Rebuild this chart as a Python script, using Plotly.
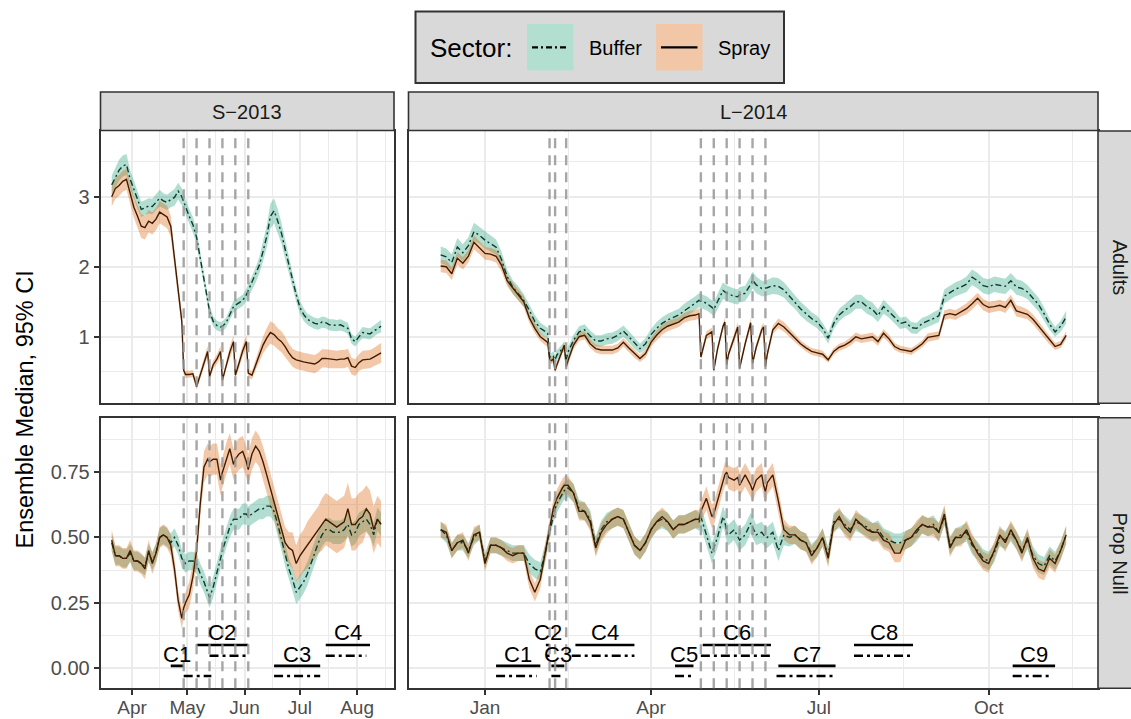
import datetime as dt
import plotly.graph_objects as go

W, H = 1131, 719

# ---------------------------------------------------------------
# S-2013 season: sampled ensemble medians and 95% CI half-widths
# ---------------------------------------------------------------
s13_days = [
    "03-21", "03-23", "03-25", "03-27", "03-29", "03-31", "04-02", "04-04", "04-06", "04-08",
    "04-10", "04-12", "04-14", "04-16", "04-18", "04-20", "04-22", "04-24", "04-26", "04-28",
    "04-29", "04-30", "05-02", "05-04", "05-06", "05-08", "05-10", "05-12", "05-13", "05-15",
    "05-17", "05-19", "05-20", "05-22", "05-24", "05-26", "05-27", "05-29", "05-31", "06-02",
    "06-03", "06-05", "06-07", "06-09", "06-11", "06-13", "06-15", "06-17", "06-19", "06-21",
    "06-23", "06-25", "06-27", "06-29", "07-01", "07-03", "07-05", "07-07", "07-09", "07-11",
    "07-13", "07-15", "07-17", "07-19", "07-21", "07-23", "07-25", "07-27", "07-29", "07-31",
    "08-02", "08-04", "08-06", "08-08", "08-10", "08-12", "08-14",
]
s13_dates = ["2013-" + d for d in s13_days]

s13_adults_buffer = [
    3.17, 3.28, 3.38, 3.44, 3.46, 3.25, 3.10, 2.95, 2.82, 2.84,
    2.87, 2.86, 2.92, 2.98, 2.94, 2.92, 2.96, 2.99, 3.08, 3.00,
    2.93, 2.85, 2.72, 2.60, 2.42, 2.12, 1.83, 1.54, 1.37, 1.22,
    1.16, 1.14, 1.15, 1.20, 1.32, 1.43, 1.45, 1.49, 1.52, 1.60,
    1.66, 1.77, 1.88, 2.02, 2.22, 2.43, 2.72, 2.80, 2.65, 2.48,
    2.25, 2.02, 1.80, 1.60, 1.42, 1.32, 1.25, 1.22, 1.19, 1.18,
    1.21, 1.20, 1.17, 1.17, 1.16, 1.17, 1.15, 1.12, 0.97, 0.93,
    1.00, 1.06, 1.05, 1.04, 1.08, 1.12, 1.15,
]
s13_adults_buffer_ci = [
    0.13, 0.14, 0.15, 0.15, 0.15, 0.13, 0.12, 0.12, 0.11, 0.11,
    0.11, 0.11, 0.11, 0.12, 0.11, 0.11, 0.11, 0.12, 0.12, 0.12,
    0.12, 0.11, 0.11, 0.11, 0.10, 0.10, 0.09, 0.08, 0.08, 0.07,
    0.07, 0.07, 0.07, 0.07, 0.08, 0.08, 0.08, 0.08, 0.08, 0.09,
    0.09, 0.10, 0.11, 0.12, 0.14, 0.16, 0.18, 0.18, 0.17, 0.15,
    0.14, 0.12, 0.11, 0.10, 0.09, 0.09, 0.08, 0.08, 0.08, 0.08,
    0.08, 0.08, 0.08, 0.08, 0.08, 0.08, 0.08, 0.08, 0.07, 0.07,
    0.07, 0.08, 0.08, 0.08, 0.08, 0.08, 0.09,
]
s13_adults_spray = [
    3.00, 3.12, 3.16, 3.22, 3.25, 3.05, 2.85, 2.72, 2.58, 2.56,
    2.65, 2.62, 2.68, 2.78, 2.75, 2.71, 2.58, 2.10, 1.65, 1.22,
    0.52, 0.46, 0.46, 0.47, 0.29, 0.46, 0.63, 0.79, 0.43, 0.60,
    0.68, 0.79, 0.38, 0.60, 0.78, 0.93, 0.45, 0.62, 0.80, 0.93,
    0.48, 0.45, 0.60, 0.75, 0.88, 0.98, 1.06, 1.03, 0.97, 0.93,
    0.86, 0.77, 0.70, 0.67, 0.65, 0.64, 0.63, 0.62, 0.61, 0.64,
    0.69, 0.69, 0.68, 0.68, 0.67, 0.68, 0.68, 0.70, 0.58, 0.56,
    0.63, 0.67, 0.67, 0.68, 0.71, 0.74, 0.77,
]
s13_adults_spray_ci = [
    0.14, 0.15, 0.15, 0.15, 0.15, 0.15, 0.15, 0.16, 0.17, 0.17,
    0.16, 0.16, 0.16, 0.16, 0.16, 0.16, 0.15, 0.12, 0.10, 0.09,
    0.06, 0.05, 0.05, 0.05, 0.05, 0.06, 0.07, 0.08, 0.05, 0.06,
    0.07, 0.08, 0.05, 0.06, 0.08, 0.09, 0.05, 0.07, 0.08, 0.09,
    0.06, 0.06, 0.08, 0.10, 0.12, 0.14, 0.16, 0.16, 0.15, 0.15,
    0.14, 0.13, 0.13, 0.13, 0.13, 0.13, 0.13, 0.13, 0.13, 0.13,
    0.13, 0.13, 0.13, 0.13, 0.13, 0.13, 0.13, 0.13, 0.12, 0.12,
    0.12, 0.13, 0.13, 0.13, 0.13, 0.13, 0.14,
]
s13_null_buffer = [
    0.48, 0.43, 0.43, 0.42, 0.42, 0.44, 0.41, 0.41, 0.40, 0.39,
    0.44, 0.41, 0.44, 0.50, 0.51, 0.50, 0.48, 0.50, 0.47, 0.42,
    0.41, 0.40, 0.41, 0.41, 0.40, 0.36, 0.33, 0.29, 0.27, 0.31,
    0.36, 0.42, 0.45, 0.50, 0.54, 0.57, 0.57, 0.57, 0.59, 0.59,
    0.58, 0.59, 0.60, 0.61, 0.61, 0.62, 0.62, 0.60, 0.55, 0.49,
    0.43, 0.38, 0.34, 0.29, 0.31, 0.33, 0.36, 0.40, 0.44, 0.48,
    0.51, 0.53, 0.53, 0.52, 0.52, 0.52, 0.53, 0.55, 0.51, 0.52,
    0.55, 0.56, 0.57, 0.55, 0.51, 0.57, 0.55,
]
s13_null_buffer_ci = [
    0.035, 0.035, 0.035, 0.035, 0.035, 0.035, 0.035, 0.035, 0.035, 0.035,
    0.035, 0.035, 0.035, 0.035, 0.035, 0.035, 0.035, 0.035, 0.035, 0.035,
    0.035, 0.035, 0.035, 0.035, 0.04, 0.04, 0.04, 0.04, 0.04, 0.04,
    0.04, 0.04, 0.04, 0.04, 0.04, 0.04, 0.04, 0.04, 0.04, 0.04,
    0.04, 0.04, 0.04, 0.04, 0.04, 0.04, 0.04, 0.04, 0.04, 0.04,
    0.04, 0.04, 0.045, 0.045, 0.045, 0.045, 0.045, 0.045, 0.045, 0.045,
    0.045, 0.045, 0.045, 0.045, 0.045, 0.045, 0.045, 0.045, 0.045, 0.045,
    0.045, 0.045, 0.045, 0.045, 0.045, 0.045, 0.045,
]
s13_null_spray = [
    0.49, 0.43, 0.43, 0.42, 0.42, 0.45, 0.41, 0.41, 0.40, 0.38,
    0.45, 0.40, 0.44, 0.50, 0.51, 0.50, 0.47, 0.38, 0.26, 0.19,
    0.23, 0.25, 0.28, 0.35, 0.45, 0.63, 0.77, 0.80, 0.79, 0.80,
    0.80, 0.72, 0.75, 0.80, 0.84, 0.78, 0.80, 0.82, 0.83, 0.79,
    0.76, 0.82, 0.85, 0.83, 0.79, 0.74, 0.69, 0.64, 0.58, 0.53,
    0.48, 0.46, 0.45, 0.40, 0.43, 0.45, 0.47, 0.49, 0.51, 0.53,
    0.55, 0.57, 0.56, 0.55, 0.54, 0.55, 0.56, 0.61, 0.55, 0.55,
    0.57, 0.58, 0.61, 0.59, 0.53, 0.57, 0.55,
]
s13_null_spray_ci = [
    0.04, 0.04, 0.04, 0.04, 0.04, 0.04, 0.04, 0.04, 0.04, 0.04,
    0.04, 0.04, 0.04, 0.04, 0.04, 0.04, 0.04, 0.04, 0.04, 0.04,
    0.04, 0.04, 0.05, 0.05, 0.05, 0.05, 0.06, 0.06, 0.06, 0.06,
    0.06, 0.06, 0.06, 0.06, 0.06, 0.06, 0.06, 0.06, 0.06, 0.06,
    0.06, 0.06, 0.06, 0.06, 0.06, 0.06, 0.06, 0.06, 0.06, 0.06,
    0.06, 0.06, 0.07, 0.07, 0.08, 0.08, 0.09, 0.09, 0.09, 0.09,
    0.10, 0.10, 0.10, 0.10, 0.10, 0.10, 0.10, 0.10, 0.10, 0.10,
    0.10, 0.10, 0.09, 0.09, 0.09, 0.09, 0.09,
]
s13_spray_days = ["2013-04-29", "2013-05-06", "2013-05-13", "2013-05-20", "2013-05-27", "2013-06-03"]

# ---------------------------------------------------------------
# L-2014 season
# ---------------------------------------------------------------
l14_dates = [
    "2013-12-08", "2013-12-11", "2013-12-14", "2013-12-17", "2013-12-20", "2013-12-23", "2013-12-26", "2013-12-29", "2014-01-01", "2014-01-04",
    "2014-01-07", "2014-01-10", "2014-01-13", "2014-01-16", "2014-01-19", "2014-01-22", "2014-01-25", "2014-01-28", "2014-01-31", "2014-02-03",
    "2014-02-04", "2014-02-05", "2014-02-06", "2014-02-07", "2014-02-08", "2014-02-09", "2014-02-12", "2014-02-13", "2014-02-14", "2014-02-15",
    "2014-02-18", "2014-02-21", "2014-02-24", "2014-02-27", "2014-03-02", "2014-03-05", "2014-03-08", "2014-03-11", "2014-03-14", "2014-03-17",
    "2014-03-20", "2014-03-23", "2014-03-26", "2014-03-29", "2014-04-01", "2014-04-04", "2014-04-07", "2014-04-10", "2014-04-13", "2014-04-16",
    "2014-04-19", "2014-04-22", "2014-04-25", "2014-04-27", "2014-04-28", "2014-05-01", "2014-05-04", "2014-05-05", "2014-05-07", "2014-05-10",
    "2014-05-11", "2014-05-12", "2014-05-13", "2014-05-16", "2014-05-18", "2014-05-19", "2014-05-22", "2014-05-25", "2014-05-26", "2014-05-28",
    "2014-05-31", "2014-06-01", "2014-06-02", "2014-06-03", "2014-06-06", "2014-06-09", "2014-06-12", "2014-06-15", "2014-06-18", "2014-06-21",
    "2014-06-24", "2014-06-27", "2014-06-30", "2014-07-03", "2014-07-06", "2014-07-09", "2014-07-12", "2014-07-15", "2014-07-18", "2014-07-21",
    "2014-07-24", "2014-07-27", "2014-07-30", "2014-08-02", "2014-08-05", "2014-08-08", "2014-08-11", "2014-08-14", "2014-08-17", "2014-08-20",
    "2014-08-23", "2014-08-26", "2014-08-29", "2014-09-01", "2014-09-04", "2014-09-07", "2014-09-10", "2014-09-13", "2014-09-16", "2014-09-19",
    "2014-09-22", "2014-09-25", "2014-09-28", "2014-10-01", "2014-10-04", "2014-10-07", "2014-10-10", "2014-10-13", "2014-10-16", "2014-10-19",
    "2014-10-22", "2014-10-25", "2014-10-28", "2014-10-31", "2014-11-03", "2014-11-06", "2014-11-09", "2014-11-12",
]
l14_adults_buffer = [
    2.17, 2.14, 2.06, 2.28, 2.20, 2.30, 2.50, 2.45, 2.38, 2.33,
    2.28, 2.10, 1.86, 1.71, 1.62, 1.52, 1.38, 1.22, 1.12, 1.07,
    1.05, 0.72, 0.70, 0.72, 0.67, 0.74, 0.84, 0.86, 0.67, 0.78,
    0.95, 1.07, 1.10, 1.01, 0.94, 0.94, 0.97, 0.98, 1.02, 1.08,
    1.00, 0.91, 0.83, 0.90, 1.03, 1.12, 1.19, 1.24, 1.28, 1.31,
    1.37, 1.42, 1.48, 1.52, 1.51, 1.48, 1.42, 1.39, 1.50, 1.66,
    1.64, 1.62, 1.61, 1.58, 1.57, 1.60, 1.62, 1.75, 1.81, 1.74,
    1.69, 1.69, 1.69, 1.70, 1.73, 1.72, 1.67, 1.58, 1.50, 1.40,
    1.33, 1.26, 1.21, 1.12, 0.98, 1.19, 1.31, 1.38, 1.43, 1.50,
    1.50, 1.43, 1.39, 1.30, 1.43, 1.36, 1.28, 1.19, 1.21, 1.13,
    1.12, 1.19, 1.22, 1.26, 1.30, 1.58, 1.63, 1.68, 1.71, 1.75,
    1.85, 1.80, 1.73, 1.71, 1.75, 1.73, 1.72, 1.80, 1.71, 1.69,
    1.64, 1.55, 1.46, 1.33, 1.18, 1.07, 1.15, 1.28,
]
l14_adults_buffer_ci = [
    0.12, 0.12, 0.12, 0.13, 0.12, 0.12, 0.13, 0.12, 0.12, 0.11,
    0.11, 0.11, 0.10, 0.10, 0.10, 0.09, 0.09, 0.09, 0.08, 0.08,
    0.08, 0.07, 0.07, 0.07, 0.07, 0.07, 0.07, 0.07, 0.07, 0.07,
    0.08, 0.08, 0.08, 0.08, 0.08, 0.08, 0.08, 0.08, 0.08, 0.08,
    0.08, 0.08, 0.07, 0.08, 0.08, 0.09, 0.09, 0.09, 0.09, 0.09,
    0.10, 0.10, 0.10, 0.10, 0.10, 0.10, 0.10, 0.10, 0.11, 0.12,
    0.11, 0.11, 0.11, 0.11, 0.11, 0.11, 0.11, 0.12, 0.12, 0.12,
    0.11, 0.11, 0.11, 0.11, 0.12, 0.12, 0.11, 0.11, 0.10, 0.10,
    0.10, 0.09, 0.09, 0.08, 0.08, 0.08, 0.09, 0.09, 0.10, 0.10,
    0.10, 0.10, 0.10, 0.09, 0.10, 0.09, 0.09, 0.08, 0.08, 0.08,
    0.08, 0.08, 0.08, 0.09, 0.09, 0.10, 0.10, 0.10, 0.10, 0.11,
    0.11, 0.11, 0.11, 0.11, 0.11, 0.11, 0.11, 0.11, 0.11, 0.11,
    0.10, 0.10, 0.10, 0.09, 0.08, 0.07, 0.08, 0.09,
]
l14_adults_spray = [
    2.01, 2.00, 1.90, 2.12, 2.05, 2.15, 2.35, 2.27, 2.19, 2.18,
    2.15, 2.02, 1.80, 1.70, 1.60, 1.50, 1.27, 1.12, 1.00, 0.93,
    0.92, 0.67, 0.66, 0.68, 0.52, 0.60, 0.82, 0.88, 0.57, 0.66,
    0.88, 1.00, 1.02, 0.90, 0.83, 0.81, 0.81, 0.81, 0.84, 0.92,
    0.84, 0.76, 0.69, 0.76, 0.92, 1.02, 1.10, 1.15, 1.18, 1.21,
    1.27, 1.30, 1.31, 1.33, 0.71, 1.02, 1.07, 0.52, 0.82, 1.15,
    1.21, 0.60, 0.75, 0.98, 1.14, 0.55, 0.90, 1.20, 0.62, 0.85,
    1.10, 1.14, 0.57, 0.75, 1.10, 1.19, 1.14, 1.06, 0.98, 0.90,
    0.84, 0.79, 0.77, 0.75, 0.67, 0.79, 0.85, 0.88, 0.93, 1.00,
    0.97, 0.98, 1.00, 0.93, 1.05, 0.97, 0.86, 0.82, 0.81, 0.79,
    0.84, 0.90, 0.99, 1.01, 1.02, 1.31, 1.33, 1.31, 1.36, 1.40,
    1.47, 1.55, 1.46, 1.42, 1.43, 1.45, 1.42, 1.52, 1.37, 1.35,
    1.32, 1.25, 1.15, 1.05, 0.95, 0.86, 0.89, 1.02,
]
l14_adults_spray_ci = [
    0.09, 0.09, 0.09, 0.09, 0.09, 0.09, 0.10, 0.09, 0.09, 0.09,
    0.09, 0.09, 0.08, 0.08, 0.08, 0.08, 0.07, 0.07, 0.06, 0.06,
    0.06, 0.05, 0.05, 0.05, 0.04, 0.05, 0.06, 0.06, 0.05, 0.05,
    0.06, 0.06, 0.06, 0.06, 0.06, 0.06, 0.06, 0.06, 0.06, 0.06,
    0.06, 0.06, 0.05, 0.06, 0.06, 0.07, 0.07, 0.07, 0.07, 0.07,
    0.07, 0.07, 0.07, 0.07, 0.05, 0.06, 0.06, 0.04, 0.05, 0.06,
    0.07, 0.05, 0.05, 0.06, 0.07, 0.04, 0.05, 0.07, 0.05, 0.05,
    0.06, 0.06, 0.04, 0.05, 0.06, 0.07, 0.07, 0.06, 0.06, 0.05,
    0.05, 0.05, 0.05, 0.05, 0.04, 0.05, 0.05, 0.05, 0.06, 0.06,
    0.06, 0.06, 0.06, 0.06, 0.06, 0.06, 0.05, 0.05, 0.05, 0.05,
    0.05, 0.05, 0.06, 0.06, 0.06, 0.07, 0.07, 0.07, 0.07, 0.08,
    0.08, 0.08, 0.08, 0.08, 0.08, 0.08, 0.08, 0.08, 0.08, 0.08,
    0.07, 0.07, 0.07, 0.06, 0.06, 0.05, 0.05, 0.06,
]
l14_null_buffer = [
    0.53, 0.51, 0.45, 0.48, 0.48, 0.45, 0.50, 0.52, 0.41, 0.47,
    0.47, 0.46, 0.45, 0.44, 0.44, 0.44, 0.40, 0.38, 0.37, 0.45,
    0.49, 0.52, 0.56, 0.59, 0.61, 0.63, 0.67, 0.68, 0.68, 0.69,
    0.67, 0.61, 0.60, 0.57, 0.47, 0.53, 0.56, 0.57, 0.58, 0.57,
    0.52, 0.47, 0.45, 0.48, 0.53, 0.56, 0.57, 0.56, 0.53, 0.55,
    0.55, 0.56, 0.57, 0.56, 0.58, 0.51, 0.44, 0.46, 0.50, 0.58,
    0.56, 0.52, 0.51, 0.53, 0.50, 0.49, 0.51, 0.555, 0.54, 0.51,
    0.52, 0.51, 0.50, 0.50, 0.52, 0.45, 0.51, 0.50, 0.51, 0.49,
    0.48, 0.44, 0.46, 0.50, 0.43, 0.56, 0.57, 0.55, 0.53, 0.56,
    0.55, 0.54, 0.52, 0.53, 0.50, 0.49, 0.48, 0.48, 0.49, 0.50,
    0.52, 0.55, 0.54, 0.55, 0.52, 0.58, 0.47, 0.50, 0.51, 0.52,
    0.47, 0.45, 0.42, 0.41, 0.44, 0.50, 0.49, 0.52, 0.49, 0.45,
    0.49, 0.43, 0.40, 0.39, 0.43, 0.41, 0.45, 0.51,
]
l14_null_buffer_ci = [
    0.03, 0.03, 0.03, 0.03, 0.03, 0.03, 0.03, 0.03, 0.03, 0.03,
    0.03, 0.03, 0.03, 0.03, 0.03, 0.03, 0.035, 0.035, 0.035, 0.035,
    0.035, 0.035, 0.035, 0.035, 0.035, 0.035, 0.035, 0.035, 0.035, 0.035,
    0.035, 0.035, 0.035, 0.035, 0.035, 0.035, 0.035, 0.035, 0.035, 0.035,
    0.035, 0.035, 0.035, 0.035, 0.035, 0.035, 0.035, 0.035, 0.035, 0.035,
    0.035, 0.035, 0.035, 0.035, 0.04, 0.04, 0.04, 0.04, 0.04, 0.04,
    0.04, 0.04, 0.04, 0.04, 0.04, 0.04, 0.04, 0.04, 0.04, 0.04,
    0.04, 0.04, 0.04, 0.04, 0.04, 0.04, 0.04, 0.035, 0.035, 0.035,
    0.035, 0.035, 0.035, 0.035, 0.035, 0.035, 0.035, 0.035, 0.035, 0.035,
    0.035, 0.035, 0.035, 0.035, 0.035, 0.035, 0.035, 0.035, 0.035, 0.035,
    0.035, 0.035, 0.035, 0.035, 0.035, 0.035, 0.035, 0.035, 0.035, 0.035,
    0.035, 0.035, 0.035, 0.035, 0.035, 0.035, 0.035, 0.035, 0.035, 0.035,
    0.035, 0.035, 0.035, 0.035, 0.035, 0.035, 0.035, 0.035,
]
l14_null_spray = [
    0.53, 0.52, 0.45, 0.48, 0.49, 0.44, 0.51, 0.52, 0.40, 0.47,
    0.47, 0.46, 0.44, 0.43, 0.44, 0.44, 0.34, 0.29, 0.34, 0.46,
    0.50, 0.54, 0.58, 0.61, 0.63, 0.65, 0.69, 0.70, 0.70, 0.70,
    0.67, 0.60, 0.60, 0.56, 0.46, 0.52, 0.55, 0.57, 0.58, 0.57,
    0.52, 0.47, 0.45, 0.48, 0.53, 0.56, 0.58, 0.56, 0.53, 0.55,
    0.55, 0.56, 0.57, 0.57, 0.60, 0.65, 0.58, 0.59, 0.64, 0.72,
    0.74, 0.75, 0.73, 0.72, 0.73, 0.70, 0.74, 0.70, 0.68, 0.72,
    0.74, 0.70, 0.675, 0.71, 0.74, 0.64, 0.53, 0.51, 0.51, 0.49,
    0.48, 0.43, 0.46, 0.50, 0.42, 0.55, 0.58, 0.54, 0.52, 0.57,
    0.55, 0.53, 0.52, 0.52, 0.49, 0.48, 0.44, 0.44, 0.49, 0.50,
    0.53, 0.55, 0.54, 0.54, 0.52, 0.59, 0.46, 0.50, 0.50, 0.53,
    0.48, 0.44, 0.41, 0.40, 0.45, 0.51, 0.48, 0.53, 0.49, 0.44,
    0.50, 0.42, 0.38, 0.37, 0.42, 0.40, 0.45, 0.51,
]
l14_null_spray_ci = [
    0.03, 0.03, 0.03, 0.03, 0.03, 0.03, 0.03, 0.03, 0.03, 0.03,
    0.03, 0.03, 0.03, 0.03, 0.03, 0.03, 0.035, 0.035, 0.035, 0.035,
    0.035, 0.035, 0.035, 0.035, 0.035, 0.035, 0.035, 0.035, 0.035, 0.035,
    0.035, 0.035, 0.035, 0.035, 0.035, 0.035, 0.035, 0.035, 0.035, 0.035,
    0.035, 0.035, 0.035, 0.035, 0.035, 0.035, 0.035, 0.035, 0.035, 0.035,
    0.035, 0.035, 0.035, 0.035, 0.04, 0.045, 0.045, 0.045, 0.045, 0.045,
    0.045, 0.045, 0.045, 0.045, 0.045, 0.045, 0.045, 0.045, 0.045, 0.045,
    0.045, 0.045, 0.045, 0.045, 0.045, 0.04, 0.04, 0.035, 0.035, 0.035,
    0.035, 0.035, 0.035, 0.035, 0.035, 0.035, 0.035, 0.035, 0.035, 0.035,
    0.035, 0.035, 0.035, 0.035, 0.035, 0.035, 0.035, 0.035, 0.035, 0.035,
    0.035, 0.035, 0.035, 0.035, 0.035, 0.035, 0.035, 0.035, 0.035, 0.035,
    0.035, 0.035, 0.035, 0.035, 0.035, 0.035, 0.035, 0.035, 0.035, 0.035,
    0.035, 0.035, 0.035, 0.035, 0.035, 0.035, 0.035, 0.035,
]
l14_spray_days = ["2014-02-05", "2014-02-08", "2014-02-14", "2014-04-28", "2014-05-05",
                  "2014-05-12", "2014-05-19", "2014-05-26", "2014-06-02"]

# Clusters (C#) with their spray- and buffer-sector periods; tier 1 = upper row
s13_clusters = ["C1", "C2", "C3", "C4"]
s13_spray_start = ["2013-04-22", "2013-05-06", "2013-06-17", "2013-07-15"]
s13_spray_end = ["2013-04-29", "2013-06-03", "2013-07-12", "2013-08-08"]
s13_buffer_start = ["2013-04-29", "2013-05-13", "2013-06-17", "2013-07-15"]
s13_buffer_end = ["2013-05-14", "2013-06-03", "2013-07-12", "2013-08-06"]
s13_tier = [0, 1, 0, 1]

l14_clusters = ["C1", "C2", "C3", "C4", "C5", "C6", "C7", "C8", "C9"]
l14_spray_start = ["2014-01-07", "2014-02-03", "2014-02-06", "2014-02-19", "2014-04-14",
                   "2014-04-29", "2014-06-09", "2014-07-20", "2014-10-14"]
l14_spray_end = ["2014-01-31", "2014-02-05", "2014-02-13", "2014-03-23", "2014-04-24",
                 "2014-06-05", "2014-07-10", "2014-08-21", "2014-11-06"]
l14_buffer_start = ["2014-01-07", "2014-02-03", "2014-02-06", "2014-02-17", "2014-04-14",
                    "2014-04-28", "2014-06-08", "2014-07-20", "2014-10-14"]
l14_buffer_end = ["2014-01-29", "2014-02-05", "2014-02-13", "2014-03-23", "2014-04-24",
                  "2014-06-05", "2014-07-10", "2014-08-21", "2014-11-04"]
l14_tier = [0, 1, 0, 1, 0, 1, 0, 1, 0]

# Axis breaks
s13_major = ["2013-04-01", "2013-05-01", "2013-06-01", "2013-07-01", "2013-08-01"]
s13_minor = ["2013-04-16", "2013-05-16 12:00", "2013-06-16", "2013-07-16 12:00", "2013-08-16 12:00"]
l14_major = ["2014-01-01", "2014-04-01", "2014-07-01", "2014-10-01"]
l14_minor = ["2014-02-15", "2014-05-16 12:00", "2014-08-16", "2014-11-15 12:00"]

# ---------------------------------------------------------------
# Styling
# ---------------------------------------------------------------
FONT = "Liberation Sans, Arial, Helvetica, sans-serif"
BUFFER_FILL = "rgba(27,158,119,0.34)"
SPRAY_FILL = "rgba(217,95,2,0.34)"
BUFFER_LINE = "#0d3b2e"
SPRAY_LINE = "#431c00"
BUFFER_DASH = "6px,3px,2px,3px"
SEG_DASH = "9px,4px,3px,4px"
GRID = "#ebebeb"
BORDER = "#333333"
TICK_FONT = dict(size=20, color="#4d4d4d", family=FONT)
XTICK_FONT = dict(size=19, color="#4d4d4d", family=FONT)

COL_PX = [(100.5, 394.0), (408.5, 1098.0)]
ROW_PX = [(131.0, 403.3), (417.7, 688.3)]
X_RANGES = [["2013-03-14 22:00", "2013-08-21 00:00"], ["2013-11-20 13:00", "2014-11-29 06:00"]]
Y_RANGES = [[0.049, 3.939], [-0.078, 0.959]]


def fx(p):
    return p / W


def fy(p):
    return 1 - p / H


fig = go.Figure()

panels = [
    # (row, col, dates, buffer, buffer_ci, spray, spray_ci)
    (0, 0, s13_dates, s13_adults_buffer, s13_adults_buffer_ci, s13_adults_spray, s13_adults_spray_ci),
    (0, 1, l14_dates, l14_adults_buffer, l14_adults_buffer_ci, l14_adults_spray, l14_adults_spray_ci),
    (1, 0, s13_dates, s13_null_buffer, s13_null_buffer_ci, s13_null_spray, s13_null_spray_ci),
    (1, 1, l14_dates, l14_null_buffer, l14_null_buffer_ci, l14_null_spray, l14_null_spray_ci),
]


def axis_ids(row, col):
    k = row * 2 + col + 1
    return ("x" if k == 1 else f"x{k}"), ("y" if k == 1 else f"y{k}")


for row, col, dates, buf, buf_ci, spr, spr_ci in panels:
    xa, ya = axis_ids(row, col)
    for med, ci, fill in ((buf, buf_ci, BUFFER_FILL), (spr, spr_ci, SPRAY_FILL)):
        upper = [m + c for m, c in zip(med, ci)]
        lower = [m - c for m, c in zip(med, ci)]
        fig.add_trace(go.Scatter(
            x=dates + dates[::-1], y=upper + lower[::-1], fill="toself", fillcolor=fill,
            mode="lines", line=dict(width=0), hoverinfo="skip", showlegend=False,
            xaxis=xa, yaxis=ya))
    fig.add_trace(go.Scatter(x=dates, y=buf, mode="lines", showlegend=False, hoverinfo="skip",
                             line=dict(color=BUFFER_LINE, width=1.4, dash=BUFFER_DASH),
                             xaxis=xa, yaxis=ya))
    fig.add_trace(go.Scatter(x=dates, y=spr, mode="lines", showlegend=False, hoverinfo="skip",
                             line=dict(color=SPRAY_LINE, width=1.4),
                             xaxis=xa, yaxis=ya))

# Cluster period segments and labels in the Prop Null row
TIER_Y = {0: dict(text=0.050, spray=0.008, buffer=-0.031),
          1: dict(text=0.135, spray=0.088, buffer=0.047)}

annotations = []
cluster_sets = [
    (0, s13_clusters, s13_spray_start, s13_spray_end, s13_buffer_start, s13_buffer_end, s13_tier),
    (1, l14_clusters, l14_spray_start, l14_spray_end, l14_buffer_start, l14_buffer_end, l14_tier),
]
for col, names, ss, se, bs, be, tier in cluster_sets:
    xa, ya = axis_ids(1, col)
    sx, sy, bx, by = [], [], [], []
    for i, name in enumerate(names):
        lv = TIER_Y[tier[i]]
        sx += [ss[i], se[i], None]
        sy += [lv["spray"], lv["spray"], None]
        bx += [bs[i], be[i], None]
        by += [lv["buffer"], lv["buffer"], None]
        a = dt.datetime.fromisoformat(ss[i])
        b = dt.datetime.fromisoformat(se[i])
        mid = a + (b - a) / 2
        annotations.append(dict(
            x=mid.strftime("%Y-%m-%d %H:%M"), y=lv["text"], xref=xa, yref=ya, text=name,
            showarrow=False, xanchor="center", yanchor="middle",
            font=dict(size=22, color="black", family=FONT)))
    fig.add_trace(go.Scatter(x=sx, y=sy, mode="lines", line=dict(color="black", width=2.6),
                             showlegend=False, hoverinfo="skip", xaxis=xa, yaxis=ya))
    fig.add_trace(go.Scatter(x=bx, y=by, mode="lines", line=dict(color="black", width=2.6, dash=SEG_DASH),
                             showlegend=False, hoverinfo="skip", xaxis=xa, yaxis=ya))

# Axes
layout_axes = {}
for row in range(2):
    for col in range(2):
        xa, ya = axis_ids(row, col)
        xkey = "xaxis" if xa == "x" else "xaxis" + xa[1:]
        ykey = "yaxis" if ya == "y" else "yaxis" + ya[1:]
        x0, x1 = COL_PX[col]
        y0, y1 = ROW_PX[row]
        bottom = row == 1
        left = col == 0
        layout_axes[xkey] = dict(
            domain=[fx(x0), fx(x1)], anchor=ya, type="date", range=X_RANGES[col],
            tickmode="array", tickvals=s13_major if col == 0 else l14_major, tickformat="%b",
            showgrid=True, gridcolor=GRID, gridwidth=1.7,
            minor=dict(tickmode="array", tickvals=s13_minor if col == 0 else l14_minor,
                       showgrid=True, gridcolor=GRID, gridwidth=0.9, ticks=""),
            showline=True, mirror=True, linecolor=BORDER, linewidth=1.7,
            zeroline=False, automargin=False, fixedrange=True,
            showticklabels=bottom, ticks="outside" if bottom else "",
            ticklen=5, tickwidth=1.5, tickcolor=BORDER, tickfont=XTICK_FONT,
            ticklabelstandoff=-4)
        if row == 0:
            ycfg = dict(tick0=0, dtick=1, minor=dict(dtick=0.5, showgrid=True, gridcolor=GRID,
                                                     gridwidth=0.9, ticks=""))
        else:
            ycfg = dict(tick0=0, dtick=0.25, tickformat=".2f",
                        minor=dict(dtick=0.125, showgrid=True, gridcolor=GRID, gridwidth=0.9, ticks=""))
        layout_axes[ykey] = dict(
            domain=[fy(y1), fy(y0)], anchor=xa, range=Y_RANGES[row], tickmode="linear",
            showgrid=True, gridcolor=GRID, gridwidth=1.7,
            showline=True, mirror=True, linecolor=BORDER, linewidth=1.7,
            zeroline=False, automargin=False, fixedrange=True,
            showticklabels=left, ticks="outside" if left else "",
            ticklen=5, tickwidth=1.5, tickcolor=BORDER, tickfont=TICK_FONT, **ycfg)

shapes = []
# spray event markers
for row in range(2):
    for col, days in ((0, s13_spray_days), (1, l14_spray_days)):
        xa, ya = axis_ids(row, col)
        for d in days:
            shapes.append(dict(type="line", xref=xa, yref=f"{ya} domain", x0=d, x1=d, y0=0, y1=1,
                               line=dict(color="rgba(150,150,150,0.85)", width=2.4, dash="10px,7px"),
                               layer="above"))

# facet strips
for col, label in enumerate(["S\u22122013", "L\u22122014"]):
    x0, x1 = COL_PX[col]
    shapes.append(dict(type="rect", xref="paper", yref="paper", x0=fx(x0), x1=fx(x1),
                       y0=fy(130.5), y1=fy(92.0), fillcolor="#d9d9d9",
                       line=dict(color=BORDER, width=1.6), layer="above"))
    annotations.append(dict(x=fx((x0 + x1) / 2), y=fy(111.5), xref="paper", yref="paper",
                            text=label, showarrow=False, xanchor="center", yanchor="middle",
                            font=dict(size=20, color="#1a1a1a", family=FONT)))
for row, label in enumerate(["Adults", "Prop Null"]):
    y0, y1 = ROW_PX[row]
    shapes.append(dict(type="rect", xref="paper", yref="paper", x0=fx(1098.0), x1=fx(1140.0),
                       y0=fy(y1), y1=fy(y0), fillcolor="#d9d9d9",
                       line=dict(color=BORDER, width=1.6), layer="above"))
    annotations.append(dict(x=fx(1119.5), y=fy((y0 + y1) / 2), xref="paper", yref="paper",
                            text=label, showarrow=False, textangle=90,
                            xanchor="center", yanchor="middle",
                            font=dict(size=20, color="#1a1a1a", family=FONT)))

# y-axis title
annotations.append(dict(x=fx(24), y=fy(409.5), xref="paper", yref="paper",
                        text="Ensemble Median, 95% CI", showarrow=False, textangle=-90,
                        xanchor="center", yanchor="middle",
                        font=dict(size=23.5, color="black", family=FONT)))

# legend box
shapes.append(dict(type="rect", xref="paper", yref="paper", x0=fx(415.5), x1=fx(784.0),
                   y0=fy(83.0), y1=fy(11.5), fillcolor="#d9d9d9",
                   line=dict(color=BORDER, width=2)))
annotations.append(dict(x=fx(428), y=fy(47.5), xref="paper", yref="paper", text="Sector:",
                        showarrow=False, xanchor="left", yanchor="middle",
                        font=dict(size=26, color="black", family=FONT)))
legend_items = [
    ("Buffer", "#b3dfd1", BUFFER_LINE, BUFFER_DASH, 527.0),
    ("Spray", "#f2c7a7", SPRAY_LINE, "solid", 656.0),
]
for name, key_fill, lcol, ldash, kx in legend_items:
    shapes.append(dict(type="rect", xref="paper", yref="paper", x0=fx(kx), x1=fx(kx + 46.5),
                       y0=fy(70.5), y1=fy(24.0), fillcolor=key_fill, line=dict(width=0)))
    shapes.append(dict(type="line", xref="paper", yref="paper", x0=fx(kx + 5), x1=fx(kx + 41.5),
                       y0=fy(47.3), y1=fy(47.3), line=dict(color="black", width=2.2, dash=ldash)))
    annotations.append(dict(x=fx(kx + 60), y=fy(47.5), xref="paper", yref="paper", text=name,
                            showarrow=False, xanchor="left", yanchor="middle",
                            font=dict(size=20, color="black", family=FONT)))

fig.update_layout(
    width=W, height=H, autosize=False,
    margin=dict(l=0, r=0, t=0, b=0, pad=0),
    paper_bgcolor="white", plot_bgcolor="white",
    showlegend=False, hovermode=False,
    font=dict(family=FONT, color="#4d4d4d"),
    shapes=shapes, annotations=annotations,
    **layout_axes,
)

fig.write_html("out.html")
